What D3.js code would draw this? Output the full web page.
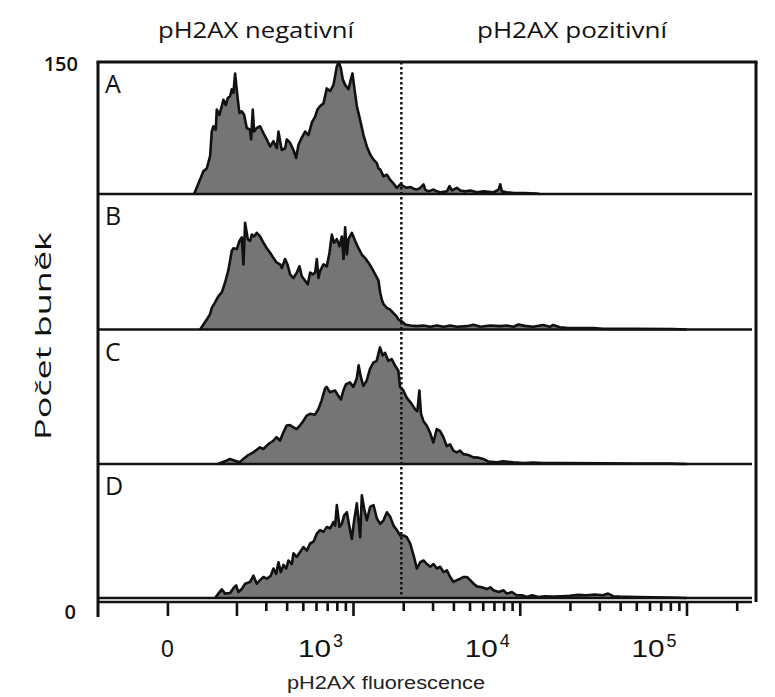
<!DOCTYPE html>
<html><head><meta charset="utf-8">
<script src="https://cdn.jsdelivr.net/npm/d3@7"></script>
<style>body{margin:0;background:#fff} svg{display:block}</style>
</head><body>
<svg id="c" width="775" height="697"></svg>
<script>
// ---------- DATA (x = logicle display channel in decades, y = cell count) ----------
const panelLabels = ["A", "B", "C", "D"];
const histA = [[2.047,0],[2.073,12],[2.103,26],[2.123,29],[2.143,43],[2.153,71],[2.163,77],[2.177,73],[2.183,96],[2.199,90],[2.213,100],[2.223,107],[2.237,101],[2.249,109],[2.263,111],[2.273,119],[2.283,115],[2.293,137],[2.307,111],[2.319,92],[2.333,94],[2.347,90],[2.363,75],[2.383,73],[2.389,62],[2.399,96],[2.407,71],[2.423,75],[2.443,77],[2.463,69],[2.483,62],[2.503,54],[2.523,60],[2.543,52],[2.553,71],[2.563,60],[2.573,50],[2.593,52],[2.603,62],[2.623,58],[2.643,50],[2.659,41],[2.673,56],[2.693,64],[2.713,71],[2.733,67],[2.753,81],[2.773,88],[2.787,96],[2.803,100],[2.823,103],[2.843,120],[2.863,117],[2.883,124],[2.903,145],[2.915,150],[2.927,143],[2.939,130],[2.953,124],[2.973,119],[2.987,130],[2.997,137],[3.007,122],[3.023,100],[3.043,84],[3.063,67],[3.083,54],[3.103,45],[3.123,39],[3.143,35],[3.153,29],[3.163,28],[3.183,20],[3.203,22],[3.223,16],[3.243,12],[3.263,7],[3.283,11],[3.303,9],[3.323,7],[3.343,8],[3.363,6],[3.383,5],[3.403,7],[3.423,11],[3.433,5],[3.453,3],[3.483,5],[3.503,3],[3.523,2],[3.563,3],[3.579,9],[3.593,4],[3.623,7],[3.643,4],[3.673,3],[3.703,4],[3.743,2],[3.783,3],[3.843,2],[3.873,5],[3.883,11],[3.893,3],[3.923,2],[3.963,1],[4.03,1],[4.10,0.5],[4.12,0]];
const histB = [[2.083,0],[2.103,5.5],[2.123,11],[2.143,17],[2.153,24],[2.173,30],[2.193,37],[2.213,41],[2.233,52],[2.253,66],[2.273,87],[2.283,90],[2.303,89],[2.319,98],[2.333,102],[2.343,72],[2.353,118],[2.369,100],[2.383,98],[2.393,105],[2.407,103],[2.423,107],[2.443,103],[2.463,96],[2.483,90],[2.503,85],[2.523,79],[2.543,74],[2.563,72],[2.573,68],[2.593,78],[2.607,72],[2.623,61],[2.643,57],[2.663,63],[2.679,70],[2.693,59],[2.713,54],[2.729,50],[2.743,63],[2.759,61],[2.773,63],[2.783,78],[2.793,57],[2.803,65],[2.823,72],[2.843,70],[2.859,85],[2.873,105],[2.887,96],[2.903,100],[2.919,92],[2.933,103],[2.943,78],[2.953,113],[2.963,83],[2.973,100],[2.993,107],[3.013,98],[3.033,90],[3.053,83],[3.073,79],[3.093,74],[3.113,68],[3.133,61],[3.153,54],[3.163,41],[3.173,33],[3.183,28],[3.203,24],[3.223,22],[3.243,18],[3.259,15],[3.273,11],[3.293,9],[3.313,5.5],[3.343,4.4],[3.383,3.7],[3.423,4.4],[3.463,3],[3.503,4.4],[3.543,3],[3.583,4.4],[3.623,3],[3.683,3.7],[3.723,5.2],[3.763,3],[3.823,4.4],[3.883,3.7],[3.923,4.4],[3.963,3],[3.993,5.5],[4.03,4],[4.08,3],[4.14,5],[4.18,3],[4.2,5],[4.24,2.5],[4.28,2],[4.35,1.5],[4.44,1.5],[4.5,0.7],[4.68,0.7],[4.92,0.5],[5.0,0]];
const histC = [[2.19,0],[2.232,3],[2.262,5.6],[2.292,3.7],[2.322,1.9],[2.342,5.6],[2.372,10],[2.402,13],[2.442,18.6],[2.462,16.7],[2.492,22],[2.522,26],[2.542,30],[2.562,26],[2.582,35],[2.602,43],[2.622,43.5],[2.642,41],[2.662,39],[2.682,43],[2.702,48],[2.722,54],[2.742,56],[2.772,55],[2.792,61],[2.812,71],[2.832,84],[2.842,86],[2.862,80],[2.892,82],[2.912,76],[2.928,72],[2.942,82],[2.958,89],[2.982,91],[3.002,86],[3.022,95],[3.034,110],[3.046,98],[3.062,87],[3.082,93],[3.102,106],[3.122,113],[3.142,115],[3.162,130],[3.178,121],[3.192,124],[3.212,115],[3.232,117],[3.252,110],[3.272,104],[3.282,86],[3.302,82],[3.322,74],[3.352,67],[3.372,61],[3.386,59],[3.398,82],[3.408,56],[3.422,48],[3.442,43],[3.462,35],[3.482,24],[3.502,39],[3.522,37],[3.542,30],[3.562,20],[3.582,22],[3.602,15],[3.622,13],[3.642,15],[3.662,11],[3.692,10],[3.722,7.4],[3.752,7.1],[3.782,5.6],[3.812,2.6],[3.862,1.9],[3.902,3],[3.962,1.9],[4.022,1.1],[4.082,1.5],[4.142,1.1],[4.262,1.1],[4.5,0.8],[4.7,0.6],[4.9,0.4],[5.0,0]];
const histD = [[2.1725,0],[2.193,4.9],[2.213,9.7],[2.233,4.9],[2.263,5.6],[2.283,11],[2.299,14],[2.313,6.7],[2.333,10],[2.353,16],[2.383,18],[2.403,25],[2.423,16],[2.443,20],[2.463,23.5],[2.483,21.6],[2.507,25],[2.523,33],[2.539,27],[2.553,40],[2.567,29],[2.583,37],[2.599,33],[2.613,42],[2.633,38],[2.643,50],[2.663,46],[2.683,51.5],[2.703,57],[2.723,53],[2.743,61],[2.763,63],[2.783,72],[2.803,76],[2.823,74],[2.843,79.5],[2.863,78],[2.883,85],[2.893,81],[2.903,104],[2.919,79.5],[2.933,83],[2.947,92.5],[2.963,96],[2.979,79.5],[2.993,66],[3.007,87],[3.023,106],[3.033,87],[3.043,68],[3.053,115],[3.067,100],[3.083,87],[3.103,102],[3.123,104],[3.143,89],[3.163,83],[3.183,87],[3.203,96],[3.223,91],[3.243,81],[3.263,76],[3.283,70],[3.303,70],[3.323,68],[3.343,61],[3.363,48],[3.383,33],[3.403,40],[3.423,42],[3.443,38],[3.463,35],[3.483,38],[3.503,33],[3.523,35],[3.543,29],[3.563,31],[3.583,23.5],[3.603,18],[3.623,20],[3.643,21.6],[3.663,23.5],[3.683,23.5],[3.703,20],[3.723,16],[3.743,13],[3.773,12],[3.803,10],[3.823,12],[3.843,8.6],[3.873,6.7],[3.903,8.6],[3.923,4.9],[3.953,6.7],[3.983,3],[4.013,3],[4.043,1.1],[4.073,3],[4.113,1.1],[4.15,2],[4.2,1.5],[4.25,2],[4.3,2.5],[4.35,3.5],[4.4,3],[4.45,4],[4.5,3],[4.53,5],[4.56,2],[4.6,1.5],[4.7,1],[4.8,0.7],[4.9,0.5],[5.0,0]];
const threshold = 1950;                       // gate between negative / positive
const yMax = 150;
const yTickLabels = ["150", "0"];
const longTickValues = [0, 200, 1e3, 1e4, 1e5];
const minorTickValues = [300,400,500,600,700,800,900,2000,3000,4000,5000,6000,7000,8000,9000,2e4,3e4,4e4,5e4,6e4,7e4,8e4,9e4,2e5];
const majorLabels = [{v:0, base:"0", exp:""}, {v:1e3, base:"10", exp:"3"}, {v:1e4, base:"10", exp:"4"}, {v:1e5, base:"10", exp:"5"}];
const gateLabels = ["pH2AX negativní", "pH2AX pozitivní"];
const xTitle = "pH2AX fluorescence";
const yTitle = "Počet buněk";

// ---------- LAYOUT ----------
const hists = [histA, histB, histC, histD];
const svg = d3.select("#c");
const L = 98, R = 756, lineEnd = 752;
const tops = [62, 194, 329.5, 464], bots = [194, 329.5, 464, 598];
const axisY = 602;
// logicle-like display transform (log above 200, linear toward 0)
function disp(v) { return v >= 200 ? Math.log10(v) : Math.log10(200) - 0.414 * (200 - v) / 200; }
const x = d3.scaleLinear().domain([3, 5]).range([353, 686.5]);
const ink = "#111";

hists.forEach((h, i) => {
  const y = d3.scaleLinear().domain([0, yMax]).range([bots[i], tops[i]]);
  const area = d3.area().x(d => x(d[0])).y0(bots[i]).y1(d => y(d[1]));
  const line = d3.line().x(d => x(d[0])).y(d => y(d[1]));
  svg.append("path").datum(h).attr("d", area).attr("fill", "#757575");
  svg.append("path").datum(h).attr("d", line).attr("fill", "none")
     .attr("stroke", ink).attr("stroke-width", 2.6).attr("stroke-linejoin", "round");
  svg.append("line").attr("x1", L).attr("x2", lineEnd).attr("y1", bots[i]).attr("y2", bots[i])
     .attr("stroke", ink).attr("stroke-width", 2.6);
  svg.append("text").attr("x", 105).attr("y", tops[i] + 31).text(panelLabels[i])
     .attr("font-family", "Open Sans").attr("font-size", 25).attr("fill", ink);
});

// gate (dotted)
svg.append("line").attr("x1", x(disp(threshold))).attr("x2", x(disp(threshold)))
   .attr("y1", 62).attr("y2", bots[3]).attr("stroke", ink).attr("stroke-width", 2.5)
   .attr("stroke-dasharray", "2.5,2.5");

// frame
svg.append("line").attr("x1", L - 1.5).attr("x2", R + 1.5).attr("y1", 62).attr("y2", 62).attr("stroke", ink).attr("stroke-width", 3);
svg.append("line").attr("x1", L).attr("x2", L).attr("y1", 62).attr("y2", 617).attr("stroke", ink).attr("stroke-width", 3);
svg.append("line").attr("x1", R).attr("x2", R).attr("y1", 62).attr("y2", axisY).attr("stroke", ink).attr("stroke-width", 3);
svg.append("line").attr("x1", L).attr("x2", lineEnd).attr("y1", axisY).attr("y2", axisY).attr("stroke", ink).attr("stroke-width", 2.6);

// ticks
const gLong = svg.append("g").attr("transform", `translate(0,${axisY})`)
  .call(d3.axisBottom(x).tickValues(longTickValues.map(disp)).tickSize(14).tickFormat(""));
const gMinor = svg.append("g").attr("transform", `translate(0,${axisY})`)
  .call(d3.axisBottom(x).tickValues(minorTickValues.map(disp)).tickSize(9).tickFormat(""));
[gLong, gMinor].forEach(g => {
  g.select(".domain").remove();
  g.selectAll("line").attr("stroke", ink).attr("stroke-width", 2.6);
});

// tick labels
majorLabels.forEach(t => {
  const tx = x(disp(t.v));
  if (!t.exp) {
    svg.append("text").attr("x", tx).attr("y", 657).attr("text-anchor", "middle").text(t.base)
       .attr("font-family", "Liberation Sans").attr("font-size", 23).attr("fill", ink);
  } else {
    svg.append("text").attr("x", tx - 55).attr("y", 657).text(t.base)
       .attr("textLength", 33).attr("lengthAdjust", "spacingAndGlyphs")
       .attr("font-family", "Liberation Sans").attr("font-size", 23).attr("fill", ink);
    svg.append("text").attr("x", tx - 20).attr("y", 647).attr("text-anchor", "start").text(t.exp)
       .attr("font-family", "Liberation Sans").attr("font-size", 18).attr("fill", ink);
  }
});

// y labels
svg.append("text").attr("x", 78).attr("y", 71).attr("text-anchor", "end").text(yTickLabels[0])
   .attr("font-family", "Open Sans").attr("font-weight", 600).attr("font-size", 20).attr("fill", ink);
svg.append("text").attr("x", 76).attr("y", 619).attr("text-anchor", "end").text(yTickLabels[1])
   .attr("font-family", "Open Sans").attr("font-weight", 600).attr("font-size", 20).attr("fill", ink);

// titles
const gateX = [256, 572], gateW = [196, 190];
gateLabels.forEach((s, i) => {
  svg.append("text").attr("x", gateX[i] - gateW[i] / 2).attr("y", 38).text(s)
     .attr("textLength", gateW[i]).attr("lengthAdjust", "spacingAndGlyphs")
     .attr("font-family", "Open Sans").attr("font-size", 22).attr("fill", ink);
});
svg.append("text").attr("transform", "translate(51,336) rotate(-90)").attr("x", -104).attr("y", 0)
   .text(yTitle).attr("textLength", 208).attr("lengthAdjust", "spacingAndGlyphs")
   .attr("font-family", "Open Sans").attr("font-size", 22).attr("fill", ink);
svg.append("text").attr("x", 287).attr("y", 689).text(xTitle)
   .attr("textLength", 198).attr("lengthAdjust", "spacingAndGlyphs")
   .attr("font-family", "Liberation Sans").attr("font-size", 18).attr("fill", "#222");
</script>
</body></html>
